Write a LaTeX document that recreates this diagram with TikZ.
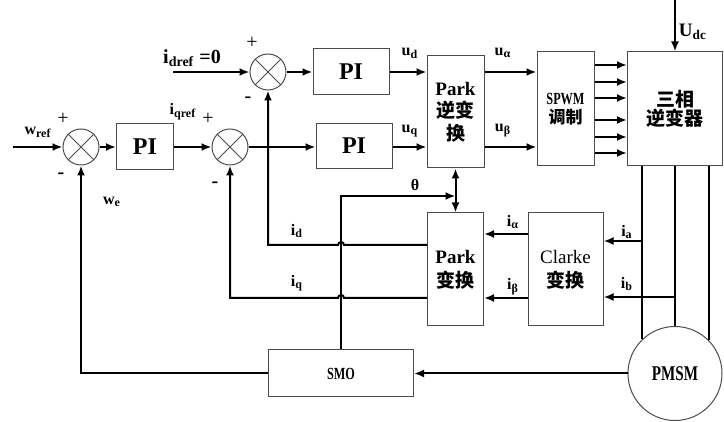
\documentclass[tikz,border=0pt]{standalone}
\usepackage{fontspec}
\setmainfont{Liberation Serif}
\newfontfamily\cjk{Noto Sans CJK SC}
\usetikzlibrary{arrows.meta}
\newcommand{\subl}[2]{#1\textsubscript{#2}}
\newcommand{\narrow}[1]{\scalebox{0.72}[1]{#1}}

\begin{document}
\begin{tikzpicture}[x=0.5pt,y=-0.5pt,line width=1pt,
  >={Latex[length=5pt,width=4pt]},
  blk/.style={draw=black!70,line width=0.5pt,inner sep=0pt,align=center,
    font=\bfseries\fontsize{9.5}{11.3}\selectfont},
  sumx/.style={circle,draw=black!70,line width=0.5pt,minimum size=18pt,inner sep=0pt,
    path picture={\draw[black!70,line width=0.4pt]
      (path picture bounding box.north west) -- (path picture bounding box.south east)
      (path picture bounding box.north east) -- (path picture bounding box.south west);}},
  lbl/.style={font=\bfseries\fontsize{8}{9}\selectfont,inner sep=0pt},
  sgn/.style={font=\fontsize{10}{10}\selectfont,inner sep=0pt}]
  \useasboundingbox (0,0) rectangle (724,422);

  % blocks
  \node[sumx] (sumw) at (81,147) {};
  \node[blk,minimum width=28.5pt,minimum height=23pt,font=\bfseries\fontsize{12}{12}\selectfont] (pi1) at (145,147) {PI};
  \node[sumx] (sumq) at (230,147) {};
  \node[sumx] (sumd) at (268,72) {};
  \node[blk,minimum width=38pt,minimum height=23pt,font=\bfseries\fontsize{12}{12}\selectfont] (pid) at (351,72) {PI};
  \node[blk,minimum width=38pt,minimum height=22.5pt,font=\bfseries\fontsize{12}{12}\selectfont] (piq) at (354,146) {PI};
  \node[blk,minimum width=28.5pt,minimum height=56pt] (ipark) at (455.5,112) {Park\\{\cjk 逆变}\\{\cjk 换}};
  \node[blk,minimum width=28.5pt,minimum height=57pt,font=\bfseries\fontsize{8.5}{9.5}\selectfont] (spwm) at (565.5,109) {\narrow{SPWM}\\{\cjk 调制}};
  \node[blk,minimum width=47.5pt,minimum height=57pt,font=\bfseries\fontsize{9.5}{9.5}\selectfont] (inv) at (675,109) {{\cjk 三相}\\{\cjk 逆变器}};
  \node[blk,minimum width=28pt,minimum height=56.5pt,font=\bfseries\fontsize{9.5}{12}\selectfont] (park) at (455.5,269.5) {Park\\{\cjk 变换}};
  \node[blk,minimum width=37.5pt,minimum height=56.5pt,font=\fontsize{9.5}{12}\selectfont] (clarke) at (565.5,269.5) {Clarke\\{\cjk\bfseries 变换}};
  \node[blk,minimum width=72.5pt,minimum height=23.5pt,font=\bfseries\fontsize{8.5}{9}\selectfont] (smo) at (341,373.5) {\narrow{SMO}};
  \node[blk,circle,minimum size=47pt,font=\bfseries\fontsize{10.5}{10}\selectfont] (pmsm) at (675,373.5) {\narrow{PMSM}};

  \coordinate (win) at (13,147);
  \coordinate (dref) at (173,72);

  % forward path
  \draw[->] (win) -- (sumw);
  \draw[->] (sumw) -- (pi1);
  \draw[->] (pi1) -- (sumq);
  \draw[->] (sumq) -- (sumq -| piq.west);
  \draw[->] (dref) -- (sumd);
  \draw[->] (sumd) -- (pid);
  \draw[->] (pid) -- (pid -| ipark.west);
  \draw[->] (piq.east |- sumq) -- (sumq -| ipark.west);
  \draw[->] (ipark.east |- pid) -- (spwm.west |- pid);
  \draw[->] (ipark.east |- sumq) -- (spwm.west |- sumq);
  \foreach \y in {65,82,98,120,137,153}
    \draw[->] (spwm.east |- 0,\y) -- (inv.west |- 0,\y);
  \draw[->] (inv.north |- 0,0) -- (inv);
  \draw (inv.south -| pmsm.134) -- (pmsm.134);
  \draw (inv.south) -- (pmsm.north);
  \draw (inv.south -| pmsm.45) -- (pmsm.45);

  % feedback path
  \draw[->] (pmsm.134 |- 0,241) -- (clarke.east |- 0,241);
  \draw[->] (pmsm.north |- 0,297) -- (clarke.east |- 0,297);
  \draw[->] (clarke.west |- 0,234) -- (park.east |- 0,234);
  \draw[->] (clarke.west |- 0,298) -- (park.east |- 0,298);
  \draw[->] (park.west |- 0,245) -- (344,245) arc[start angle=0,end angle=-180,radius=3]
    -- (sumd |- 0,245) -- (sumd);
  \draw[->] (park.west |- 0,298) -- (344,298) arc[start angle=0,end angle=-180,radius=3]
    -- (sumq |- 0,298) -- (sumq);
  \draw[->] (smo) -- (smo |- 0,196) -- (ipark.south |- 0,196);
  \draw[<->] (park) -- (ipark);
  \draw[->] (pmsm) -- (smo);
  \draw[->] (smo) -| (sumw);

  % labels
  \node[lbl] at (38,132) {\subl{w}{ref}};
  \node[sgn] at (63,119) {+};
  \node[sgn,font=\bfseries] at (61,176) {-};
  \node[lbl] at (112,202) {\subl{w}{e}};
  \node[lbl] at (183,112) {\subl{i}{qref}};
  \node[sgn] at (208,119) {+};
  \node[sgn,font=\bfseries] at (215,185) {-};
  \node[lbl,font=\bfseries\fontsize{10}{10}\selectfont] at (192,58) {\subl{i}{dref} =0};
  \node[sgn] at (252,43) {+};
  \node[sgn,font=\bfseries] at (248,100) {-};
  \node[lbl] at (410,53) {\subl{u}{d}};
  \node[lbl] at (410,131) {\subl{u}{q}};
  \node[lbl] at (503,53) {\subl{u}{α}};
  \node[lbl] at (503,131) {\subl{u}{β}};
  \node[lbl,font=\bfseries\fontsize{9.5}{10}\selectfont] at (693,32) {\subl{U}{dc}};
  \node[lbl] at (415,185) {θ};
  \node[lbl] at (297,231) {\subl{i}{d}};
  \node[lbl] at (297,283) {\subl{i}{q}};
  \node[lbl] at (513,222) {\subl{i}{α}};
  \node[lbl] at (513,287) {\subl{i}{β}};
  \node[lbl] at (627,232) {\subl{i}{a}};
  \node[lbl] at (627,284) {\subl{i}{b}};
\end{tikzpicture}
\end{document}
